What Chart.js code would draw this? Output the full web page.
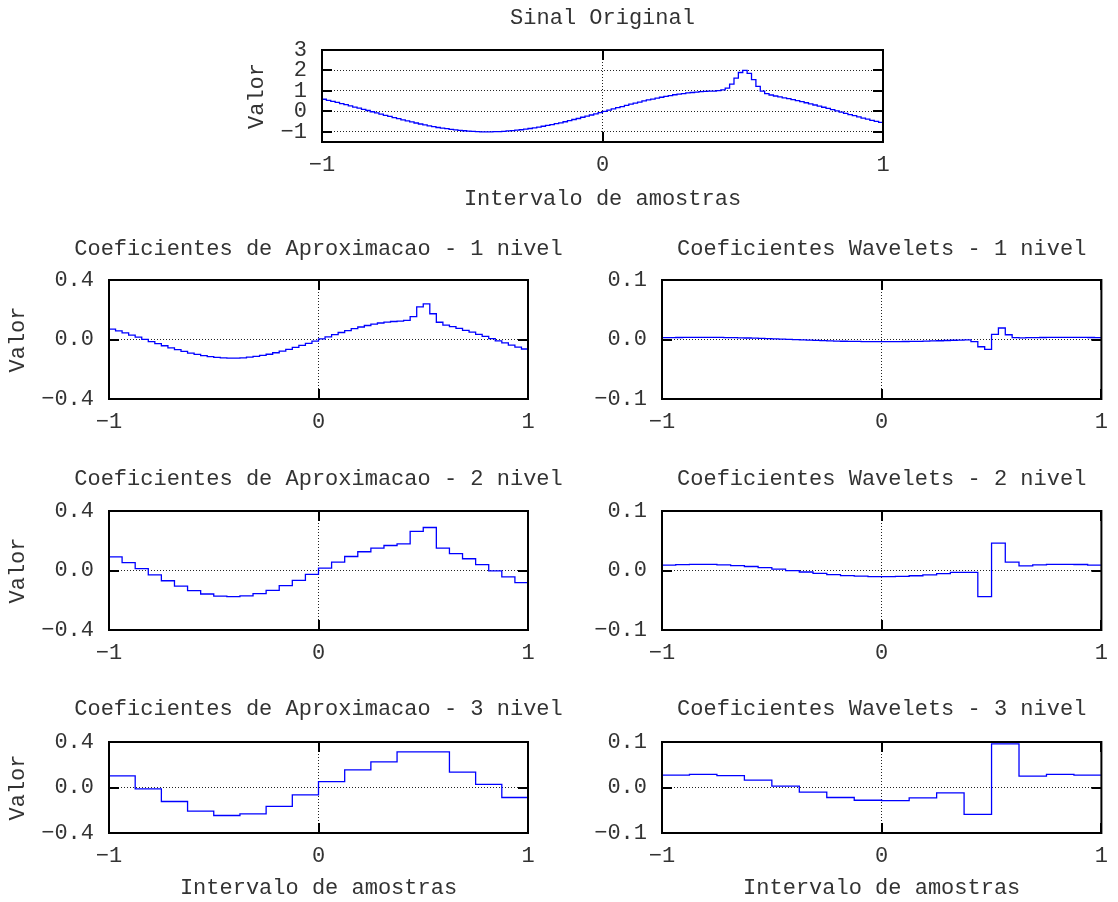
<!DOCTYPE html>
<html>
<head>
<meta charset="utf-8">
<title>Decomposicao wavelet</title>
<script src="https://cdn.jsdelivr.net/npm/chart.js@4.4.1/dist/chart.umd.min.js"></script>
<style>
  html, body { margin: 0; padding: 0; background: #fff; }
  #page { position: relative; width: 1118px; height: 902px; }
  #page canvas { position: absolute; left: 0; top: 0; }
</style>
</head>
<body>
<div id="page"></div>
<script>
// sinal de entrada (128 amostras) e coeficientes Haar por nivel
const sinalOriginal = [
   0.59,  0.54,  0.49,  0.44,  0.38,  0.33,  0.27,  0.21,  0.16,  0.10,  0.04, -0.02, -0.08, -0.14, -0.20, -0.25,
  -0.31, -0.36, -0.42, -0.47, -0.52, -0.57, -0.62, -0.66, -0.71, -0.75, -0.79, -0.82, -0.85, -0.88, -0.91, -0.93,
  -0.95, -0.97, -0.98, -0.99, -1.00, -1.00, -1.00, -0.99, -0.99, -0.98, -0.96, -0.94, -0.92, -0.90, -0.87, -0.84,
  -0.81, -0.77, -0.73, -0.69, -0.65, -0.60, -0.56, -0.51, -0.45, -0.40, -0.35, -0.29, -0.23, -0.18, -0.12, -0.06,
   0.00,  0.06,  0.12,  0.18,  0.23,  0.29,  0.35,  0.40,  0.45,  0.51,  0.56,  0.60,  0.65,  0.69,  0.73,  0.77,
   0.81,  0.84,  0.87,  0.90,  0.92,  0.94,  0.96,  0.98,  0.99,  0.99,  1.01,  1.05,  1.14,  1.33,  1.62,  1.90,
   2.00,  1.86,  1.55,  1.22,  0.99,  0.87,  0.80,  0.75,  0.71,  0.66,  0.62,  0.57,  0.52,  0.47,  0.42,  0.36,
   0.31,  0.25,  0.20,  0.14,  0.08,  0.02, -0.04, -0.10, -0.16, -0.21, -0.27, -0.33, -0.38, -0.44, -0.49, -0.54
];

const aprox1 = [
   0.070,  0.058,  0.044,  0.030,  0.016,  0.001, -0.014, -0.028, -0.042, -0.056, -0.068, -0.080, -0.091, -0.100, -0.108, -0.115,
  -0.120, -0.123, -0.125, -0.125, -0.123, -0.119, -0.114, -0.107, -0.099, -0.089, -0.078, -0.066, -0.053, -0.040, -0.026, -0.011,
   0.004,  0.018,  0.033,  0.047,  0.060,  0.073,  0.084,  0.094,  0.103,  0.111,  0.117,  0.121,  0.124,  0.129,  0.154,  0.220,
   0.239,  0.173,  0.116,  0.097,  0.086,  0.075,  0.062,  0.049,  0.035,  0.021,  0.006, -0.009, -0.023, -0.038, -0.051, -0.064
];
const wavelet1 = [
   0.0030,  0.0033,  0.0034,  0.0036,  0.0037,  0.0037,  0.0037,  0.0036,  0.0035,  0.0033,  0.0031,  0.0028,  0.0025,  0.0022,  0.0018,  0.0014,
   0.0010,  0.0006,  0.0002, -0.0003, -0.0007, -0.0011, -0.0015, -0.0019, -0.0022, -0.0026, -0.0029, -0.0031, -0.0033, -0.0035, -0.0036, -0.0037,
  -0.0037, -0.0036, -0.0036, -0.0034, -0.0032, -0.0030, -0.0027, -0.0024, -0.0021, -0.0017, -0.0013, -0.0009, -0.0005, -0.0035, -0.0122, -0.0165,
   0.0085,  0.0193,  0.0080,  0.0030,  0.0027,  0.0030,  0.0032,  0.0034,  0.0035,  0.0036,  0.0037,  0.0037,  0.0036,  0.0035,  0.0034,  0.0032
];

const aprox2 = [
   0.091,  0.053,  0.012, -0.029, -0.069, -0.105, -0.135, -0.158, -0.172, -0.176, -0.171, -0.156, -0.133, -0.102, -0.066, -0.026,
   0.016,  0.056,  0.094,  0.126,  0.151,  0.168,  0.179,  0.263,  0.289,  0.151,  0.113,  0.079,  0.040, -0.002, -0.043, -0.082
];
const wavelet2 = [
   0.0089,  0.0099,  0.0104,  0.0103,  0.0095,  0.0083,  0.0067,  0.0047,  0.0023, -0.0001, -0.0025, -0.0048, -0.0069, -0.0085, -0.0096, -0.0103,
  -0.0103, -0.0099, -0.0088, -0.0073, -0.0054, -0.0031, -0.0033, -0.0440,  0.0460,  0.0140,  0.0079,  0.0093,  0.0102,  0.0104,  0.0101,  0.0092
];

const aprox3 = [
   0.102, -0.012, -0.123, -0.207, -0.246, -0.232, -0.166, -0.065,  0.051,  0.155,  0.226,  0.313,  0.314,  0.136,  0.027, -0.088
];
const wavelet3 = [
   0.027,  0.029,  0.026,  0.016,  0.003, -0.010, -0.022, -0.028, -0.029, -0.023, -0.012, -0.059,  0.096,  0.025,  0.029,  0.027
];

// eixos
const xTicks = [-1, 0, 1];
const xLabels = ['\u22121', '0', '1'];
const yTicksSinal = [-1, 0, 1, 2, 3];
const yLabelsSinal = ['\u22121', '0', '1', '2', '3'];
const yTicksAprox = [-0.4, 0, 0.4];
const yLabelsAprox = ['\u22120.4', '0.0', '0.4'];
const yTicksWavelet = [-0.1, 0, 0.1];
const yLabelsWavelet = ['\u22120.1', '0.0', '0.1'];

const W = 1118, H = 902;
const FONT = 22;
const LH = FONT * 1.2;
const TEXT = '#333';

Chart.defaults.font.family = "'Liberation Mono', 'Courier New', monospace";
Chart.defaults.font.size = FONT;
Chart.defaults.color = TEXT;

// moldura grossa + marcas de escala para dentro, estilo gnuplot
const frame = {
    id: 'frame',
    afterDraw(chart) {
        const { ctx, chartArea: a, scales: { x, y } } = chart;
        const len = 10;
        ctx.save();
        ctx.strokeStyle = '#000';
        ctx.lineWidth = 2;
        ctx.beginPath();
        x.ticks.forEach((t) => {
            const px = Math.round(x.getPixelForValue(t.value));
            ctx.moveTo(px, a.top); ctx.lineTo(px, a.top + len);
            ctx.moveTo(px, a.bottom); ctx.lineTo(px, a.bottom - len);
        });
        y.ticks.forEach((t) => {
            const py = Math.round(y.getPixelForValue(t.value));
            ctx.moveTo(a.left, py); ctx.lineTo(a.left + len, py);
            ctx.moveTo(a.right, py); ctx.lineTo(a.right - len, py);
        });
        ctx.stroke();
        ctx.strokeRect(a.left, a.top, a.right - a.left, a.bottom - a.top);
        ctx.restore();
    }
};

// titulo centrado sobre a area do grafico, podendo passar da largura dela
const tituloTopo = {
    id: 'tituloTopo',
    afterDraw(chart, args, opts) {
        const { ctx, chartArea: a } = chart;
        ctx.save();
        ctx.font = FONT + 'px ' + Chart.defaults.font.family;
        ctx.fillStyle = TEXT;
        ctx.textAlign = 'center';
        ctx.textBaseline = 'middle';
        ctx.fillText(opts.text, (a.left + a.right) / 2, opts.y);
        ctx.restore();
    }
};

function makePlot(p) {
    const canvas = document.createElement('canvas');
    canvas.width = W;
    canvas.height = H;
    document.getElementById('page').appendChild(canvas);

    const half = LH / 2;
    const padLeft = p.valorX ? p.valorX - half : p.box.l - 100;
    const axisBottom = p.xTitleY ? p.xTitleY + half : p.box.b + 50;

    // cada coeficiente ocupa um intervalo igual em [-1, 1]
    const n = p.values.length;
    const points = p.values.map((v, i) => ({ x: -1 + 2 * i / n, y: v }));
    points.push({ x: 1, y: p.values[n - 1] });

    const gridOpts = { color: '#222', lineWidth: 1, drawTicks: false };
    const borderOpts = { display: false, dash: [1, 2] };

    new Chart(canvas, {
        type: 'line',
        data: {
            datasets: [{
                data: points,
                stepped: true,
                borderColor: '#0000ff',
                borderWidth: 1.3,
                pointRadius: 0,
                fill: false
            }]
        },
        options: {
            responsive: false,
            animation: false,
            events: [],
            layout: {
                padding: { top: p.box.t, left: padLeft, right: W - p.box.r, bottom: H - axisBottom }
            },
            plugins: {
                legend: { display: false },
                tooltip: { enabled: false },
                title: { display: false },
                tituloTopo: { text: p.title, y: p.titleY }
            },
            scales: {
                x: {
                    type: 'linear',
                    min: -1,
                    max: 1,
                    afterBuildTicks: (s) => { s.ticks = xTicks.map((v) => ({ value: v })); },
                    afterFit: (s) => { s.height = axisBottom - p.box.b; },
                    ticks: { padding: 10, maxRotation: 0, autoSkip: false, callback: (v, i) => xLabels[i] },
                    grid: gridOpts,
                    border: borderOpts,
                    title: { display: !!p.xTitleY, text: 'Intervalo de amostras', padding: 0 }
                },
                y: {
                    min: p.yMin,
                    max: p.yMax,
                    afterBuildTicks: (s) => { s.ticks = p.yTicks.map((v) => ({ value: v })); },
                    afterFit: (s) => { s.width = p.box.l - padLeft; },
                    ticks: { padding: 15, autoSkip: false, callback: (v, i) => p.yLabels[i] },
                    grid: gridOpts,
                    border: borderOpts,
                    title: { display: !!p.valorX, text: 'Valor', padding: 0 }
                }
            }
        },
        plugins: [frame, tituloTopo]
    });
}

const left = { l: 109, r: 528 };
const right = { l: 662, r: 1104 };
const rows = [
    { t: 280, b: 399, titleY: 249 },
    { t: 511, b: 630, titleY: 479 },
    { t: 742, b: 833, titleY: 709 }
];
const aprox = [aprox1, aprox2, aprox3];
const wavelets = [wavelet1, wavelet2, wavelet3];

makePlot({
    box: { l: 322, r: 883, t: 50, b: 142 },
    title: 'Sinal Original',
    titleY: 18,
    valorX: 257,
    xTitleY: 199,
    values: sinalOriginal,
    yMin: -1.5, yMax: 3,
    yTicks: yTicksSinal, yLabels: yLabelsSinal
});

rows.forEach((row, k) => {
    const last = k === rows.length - 1;
    makePlot({
        box: { l: left.l, r: left.r, t: row.t, b: row.b },
        title: 'Coeficientes de Aproximacao - ' + (k + 1) + ' nivel',
        titleY: row.titleY,
        valorX: 18,
        xTitleY: last ? 888 : null,
        values: aprox[k],
        yMin: -0.4, yMax: 0.4,
        yTicks: yTicksAprox, yLabels: yLabelsAprox
    });
    makePlot({
        box: { l: right.l, r: right.r, t: row.t, b: row.b },
        title: 'Coeficientes Wavelets - ' + (k + 1) + ' nivel',
        titleY: row.titleY,
        valorX: null,
        xTitleY: last ? 888 : null,
        values: wavelets[k],
        yMin: -0.1, yMax: 0.1,
        yTicks: yTicksWavelet, yLabels: yLabelsWavelet
    });
});
</script>
</body>
</html>
